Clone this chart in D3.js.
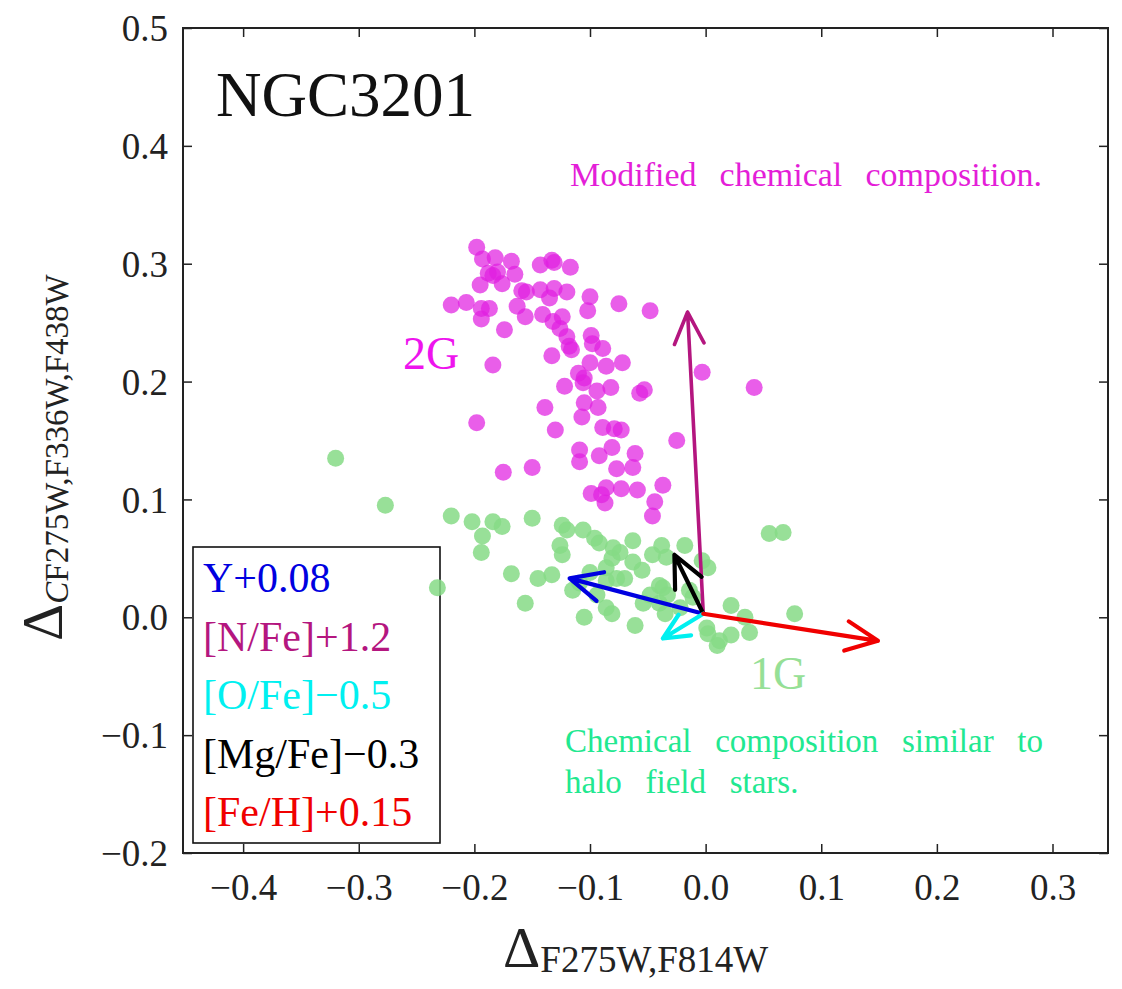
<!DOCTYPE html>
<html>
<head>
<meta charset="utf-8">
<script src="https://cdn.jsdelivr.net/npm/d3@7"></script>
<style>
  html, body { margin: 0; padding: 0; background: #fff; }
  svg { display: block; }
  svg text { font-family: "Liberation Serif", "DejaVu Serif", serif; }
</style>
</head>
<body>
<svg id="chart" width="1122" height="989"></svg>
<script>
// ---- data -------------------------------------------------------------
const xTicks = [-0.4, -0.3, -0.2, -0.1, 0.0, 0.1, 0.2, 0.3];
const yTicks = [-0.2, -0.1, 0.0, 0.1, 0.2, 0.3, 0.4, 0.5];

// second-generation (2G) stars
const g2X = [-0.198,-0.193,-0.182,-0.168,-0.188,-0.184,-0.180,-0.195,-0.176,-0.165,
             -0.143,-0.133,-0.131,-0.117,-0.159,-0.155,-0.143,-0.131,-0.135,-0.120,
             -0.220,-0.207,-0.194,-0.194,-0.187,-0.163,-0.156,-0.141,-0.132,-0.124,
             -0.126,-0.100,-0.102,-0.075,-0.048,-0.174,-0.120,-0.118,-0.099,-0.098,
             -0.089,-0.133,-0.184,-0.100,-0.086,-0.072,-0.110,-0.105,-0.122,-0.082,
             -0.094,-0.057,-0.053,-0.003,-0.106, 0.042,-0.139,-0.105,-0.093,-0.198,
             -0.130,-0.107,-0.089,-0.079,-0.073,-0.025,-0.109,-0.092,-0.081,-0.061,
             -0.109,-0.077,-0.063,-0.150,-0.175,-0.099,-0.090,-0.086,-0.087,-0.073,
             -0.059,-0.037,-0.044,-0.046,-0.116];
const g2Y = [0.314,0.304,0.305,0.302,0.292,0.290,0.293,0.282,0.283,0.291,
             0.299,0.303,0.301,0.297,0.277,0.276,0.278,0.279,0.271,0.276,
             0.265,0.267,0.262,0.253,0.262,0.264,0.255,0.257,0.251,0.255,
             0.245,0.272,0.260,0.266,0.260,0.244,0.238,0.230,0.239,0.232,
             0.228,0.222,0.214,0.216,0.213,0.216,0.207,0.203,0.196,0.195,
             0.192,0.190,0.193,0.208,0.199,0.195,0.178,0.182,0.178,0.165,
             0.159,0.170,0.161,0.160,0.159,0.150,0.142,0.137,0.144,0.139,
             0.132,0.126,0.127,0.127,0.123,0.105,0.104,0.110,0.097,0.109,
             0.108,0.112,0.098,0.086,0.227];

// first-generation (1G) stars
const g1X = [-0.320,-0.277,-0.232,-0.220,-0.202,-0.184,-0.176,-0.193,-0.194,-0.150,
             -0.124,-0.120,-0.106,-0.096,-0.092,-0.080,-0.074,-0.081,-0.063,-0.126,
             -0.124,-0.063,-0.055,-0.046,-0.038,-0.034,-0.018, 0.002,-0.168,-0.145,
             -0.133,-0.156,-0.115,-0.100,-0.086,-0.070,-0.037,-0.086,-0.081,-0.105,
             -0.061,-0.054,-0.040,-0.035,-0.022,-0.011, 0.022, 0.034, 0.077, 0.055,
              0.067, 0.002, 0.012, 0.022, 0.038, 0.010,-0.086,-0.077,-0.109,-0.040,
             -0.033,-0.003,-0.014,-0.048,-0.094, 0.001];
const g1Y = [0.135,0.095,0.025,0.086,0.081,0.081,0.077,0.069,0.055,0.084,
             0.078,0.074,0.074,0.067,0.063,0.059,0.055,0.050,0.065,0.061,
             0.053,0.047,0.040,0.053,0.061,0.051,0.061,0.042,0.037,0.033,
             0.036,0.012,0.023,0.038,0.031,0.033,0.025,0.008,0.003,0.000,
            -0.007,0.012,0.012,0.003,0.008,0.017,0.010,0.000,0.003,0.071,
             0.072,-0.014,-0.020,-0.015,-0.013,-0.024,0.042,0.033,0.029,0.027,
             0.019,0.048,0.023,0.019,0.019,-0.009];

// abundance-change vectors: common origin and tip of each arrow
const arrowOrigin = [-0.002, 0.003];
const arrowLabels = ["Y+0.08", "[N/Fe]+1.2", "[O/Fe]\u22120.5", "[Mg/Fe]\u22120.3", "[Fe/H]+0.15"];
const arrowTipX   = [-0.1176, -0.0156, -0.037, -0.027, 0.149];
const arrowTipY   = [ 0.033,   0.259,  -0.018,  0.053, -0.020];
const arrowColors = ["#0000e0", "#b4167f", "#00f0f0", "#000000", "#f00000"];

// ---- layout -----------------------------------------------------------
const SERIF = "'Liberation Serif', 'DejaVu Serif', serif";
const svg = d3.select("#chart");
const L = 183, R = 1108, T = 28, B = 853;

const x = d3.scaleLinear().domain([-0.452, 0.348]).range([L, R]);
const y = d3.scaleLinear().domain([-0.2, 0.5]).range([B, T]);
const fmt = d3.format(".1f");

// axes with inward ticks on all four sides
const tick = 9;
const gB = svg.append("g").attr("transform", `translate(0,${B})`)
  .call(d3.axisBottom(x).tickValues(xTicks).tickSize(-tick).tickSizeOuter(0).tickPadding(20).tickFormat(fmt));
const gT = svg.append("g").attr("transform", `translate(0,${T})`)
  .call(d3.axisTop(x).tickValues(xTicks).tickSize(-tick).tickSizeOuter(0).tickFormat(""));
const gLft = svg.append("g").attr("transform", `translate(${L},0)`)
  .call(d3.axisLeft(y).tickValues(yTicks).tickSize(-tick).tickSizeOuter(0).tickPadding(15).tickFormat(fmt));
const gRgt = svg.append("g").attr("transform", `translate(${R},0)`)
  .call(d3.axisRight(y).tickValues(yTicks).tickSize(-tick).tickSizeOuter(0).tickFormat(""));

[gB, gT, gLft, gRgt].forEach(g => {
  g.attr("font-family", null).attr("font-size", null);
  g.select(".domain").remove();
  g.selectAll(".tick line").attr("stroke", "#222").attr("stroke-width", 1.5);
  g.selectAll(".tick text").attr("fill", "#222").style("font-size", "37px")
    .style("font-family", SERIF);
});
gB.selectAll(".tick text").attr("dy", "0.74em");
gLft.selectAll(".tick text").attr("dy", "0.34em");

// frame
svg.append("rect").attr("x", L).attr("y", T).attr("width", R - L).attr("height", B - T)
  .attr("fill", "none").attr("stroke", "#222").attr("stroke-width", 2);

// legend box listing the vectors
const lg = svg.append("g");
lg.append("rect").attr("x", 193).attr("y", 547).attr("width", 247).attr("height", 296)
  .attr("fill", "#fff").attr("stroke", "#111").attr("stroke-width", 1.6);
const legendOrder = [0, 1, 2, 3, 4];
lg.selectAll("text.leg").data(legendOrder).join("text")
  .attr("class", "leg")
  .attr("x", 203)
  .attr("y", (d, i) => 592 + i * 58.5)
  .style("font-size", "42px")
  .attr("fill", d => arrowColors[d])
  .text(d => arrowLabels[d]);

// stars
const plot = svg.append("g");
plot.selectAll("circle.g2").data(d3.range(g2X.length)).join("circle")
  .attr("class", "g2")
  .attr("cx", i => x(g2X[i])).attr("cy", i => y(g2Y[i])).attr("r", 8.5)
  .attr("fill", "#e020e0").attr("fill-opacity", 0.72);
plot.selectAll("circle.g1").data(d3.range(g1X.length)).join("circle")
  .attr("class", "g1")
  .attr("cx", i => x(g1X[i])).attr("cy", i => y(g1Y[i])).attr("r", 8.5)
  .attr("fill", "#86da86").attr("fill-opacity", 0.85);

// vectors with open arrow heads
const ag = svg.append("g").attr("fill", "none").attr("stroke-linecap", "round").attr("stroke-linejoin", "round");
const ox = x(arrowOrigin[0]), oy = y(arrowOrigin[1]);
const drawOrder = [1, 0, 3, 2, 4];
drawOrder.forEach(k => {
  const tx = x(arrowTipX[k]), ty = y(arrowTipY[k]);
  const a = Math.atan2(ty - oy, tx - ox);
  const len = Math.hypot(tx - ox, ty - oy);
  const hl = Math.min(35, len * 0.6), th = 25 * Math.PI / 180;
  const p = d3.path();
  p.moveTo(ox, oy); p.lineTo(tx, ty);
  p.moveTo(tx - hl * Math.cos(a - th), ty - hl * Math.sin(a - th));
  p.lineTo(tx, ty);
  p.lineTo(tx - hl * Math.cos(a + th), ty - hl * Math.sin(a + th));
  ag.append("path").attr("d", p.toString())
    .attr("stroke", arrowColors[k]).attr("stroke-width", k === 1 ? 3.6 : 4.2);
});

// titles and annotations
svg.append("text").attr("x", 216).attr("y", 116).style("font-size", "63px").attr("fill", "#111")
  .text("NGC3201");

svg.append("text").attr("x", 403).attr("y", 369).style("font-size", "46px").attr("fill", "#ee14ee").text("2G");
svg.append("text").attr("x", 750).attr("y", 689).style("font-size", "46px").attr("fill", "#96e096").text("1G");

function spreadWords(sel, width) {
  const n = sel.text().split(" ").length - 1;
  const w = sel.node().getComputedTextLength();
  if (n > 0) sel.attr("word-spacing", (width - w) / n);
}
const t1 = svg.append("text").attr("x", 570).attr("y", 186).style("font-size", "34px")
  .attr("fill", "#e41ed8").text("Modified chemical composition.");
spreadWords(t1, 472);
const t2 = svg.append("text").attr("x", 565).attr("y", 752).style("font-size", "33px")
  .attr("fill", "#22e890").text("Chemical composition similar to");
spreadWords(t2, 478);
svg.append("text").attr("x", 565).attr("y", 793).style("font-size", "33px")
  .attr("fill", "#22e890").attr("word-spacing", t2.attr("word-spacing"))
  .text("halo field stars.");

// axis titles
const xl = svg.append("text").attr("x", 503).attr("y", 967).attr("fill", "#222");
xl.append("tspan").style("font-size", "58px").text("\u0394");
xl.append("tspan").style("font-size", "37px").attr("dy", 5).text("F275W,F814W");

const yl = svg.append("text").attr("transform", "translate(62,641) rotate(-90)").attr("fill", "#222");
yl.append("tspan").style("font-size", "58px").text("\u0394");
yl.append("tspan").style("font-size", "33px").attr("dy", 6).attr("font-style", "italic").text("C");
yl.append("tspan").style("font-size", "33px").text("F275W,F336W,F438W");
</script>
</body>
</html>
